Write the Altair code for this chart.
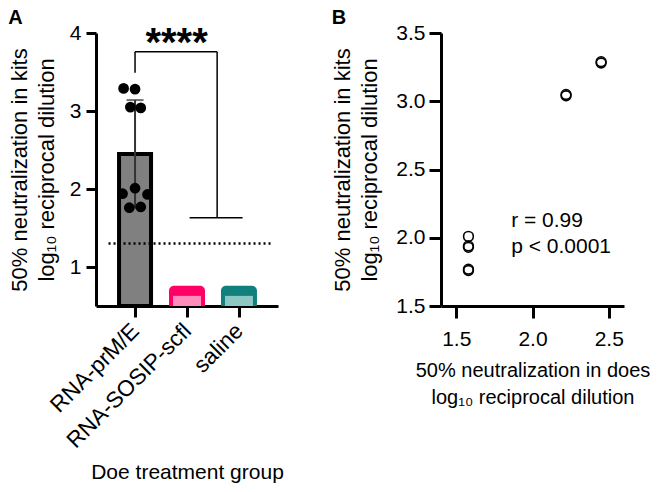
import json
import altair as alt
import pandas as pd

FONT = "Liberation Sans"

# ---------------- data ----------------
groups = ["RNA-prM/E", "RNA-SOSIP-scfl", "saline"]
group_index = [0, 1, 2]
group_means = [2.45, 0.76, 0.76]
group_inner = [0.63, 0.63]          # lighter inner part of the two empty bars
outer_colors = ["#FF0066", "#0F807C"]
inner_colors = ["#FF8CBA", "#8DC6C2"]

kits = [3.29, 3.28, 3.05, 3.04, 2.01, 1.94, 1.93, 1.76, 1.77]
kits_jitter = [-0.22, 0.0, -0.09, 0.11, 0.0, -0.24, 0.24, -0.11, 0.11]
does = [2.45, 2.45, 2.22, 2.22, 1.58, 1.58, 1.58, 1.58, 1.58]

sd_low, sd_high = 1.75, 3.14
lod = 1.30
lod_x = [-0.51, 2.655]

bracket_x1 = [0, 0, 1.58, 1.05]
bracket_x2 = [0, 1.58, 1.58, 2.07]
bracket_y1 = [3.49, 3.76, 1.63, 1.63]
bracket_y2 = [3.76, 3.76, 3.76, 1.63]
stars_x, stars_y = [0.8], [4.11]

stats_text = ["r = 0.99", "p < 0.0001"]
stats_x = [1.86, 1.86]
stats_y = [2.12, 1.93]

# ---------------- tables ----------------
grey_df = pd.DataFrame({"pos": [group_index[0]], "mean": [group_means[0]]})
col_df = pd.DataFrame({"pos": group_index[1:], "group": groups[1:],
                       "mean": group_means[1:], "inner": group_inner})
pts_df = pd.DataFrame({"pos": [group_index[0] + j for j in kits_jitter], "kits": kits})
err_df = pd.DataFrame({"pos": [group_index[0]], "lo": [sd_low], "hi": [sd_high]})
lod_df = pd.DataFrame({"x1": [lod_x[0]], "x2": [lod_x[1]], "y": [lod]})
br_df = pd.DataFrame({"x1": bracket_x1, "x2": bracket_x2, "y1": bracket_y1, "y2": bracket_y2})
star_df = pd.DataFrame({"x": stars_x, "y": stars_y, "t": ["****"]})
b_df = pd.DataFrame({"does": does, "kits": kits})
stat_df = pd.DataFrame({"x": stats_x, "y": stats_y, "t": stats_text})

# ---------------- panel A ----------------
xs = alt.Scale(domain=[-0.655, 2.655], nice=False, zero=False)
ys = alt.Scale(domain=[0.5, 4], nice=False, zero=False)
label_expr = json.dumps(groups) + "[datum.value]"

x_axis_A = alt.Axis(values=group_index, labelExpr=label_expr, labelAngle=-45,
                    labelAlign="right", labelBaseline="middle", labelFlush=False,
                    labelOverlap=False, labelPadding=10, tickSize=11, labelFontSize=22.5,
                    title="Doe treatment group", titlePadding=10, titleFontSize=21, grid=False)
y_axis_A = alt.Axis(values=[1, 2, 3, 4], format="d", tickSize=10, labelPadding=5, grid=False,
                    title=["50% neutralization in kits", "log\u2081\u2080 reciprocal dilution"],
                    titlePadding=11)

XA = alt.X("pos:Q", scale=xs, axis=x_axis_A)
base0 = alt.datum(0.5)

grey = alt.Chart(grey_df).mark_bar(size=32, color="#808080", stroke="black", strokeWidth=4).encode(
    x=XA, y=alt.Y("mean:Q", scale=ys, axis=y_axis_A), y2=base0)
outer = alt.Chart(col_df).mark_bar(size=36, cornerRadiusTopLeft=5, cornerRadiusTopRight=5).encode(
    x="pos:Q", y="mean:Q", y2=base0,
    color=alt.Color("group:N", scale=alt.Scale(domain=groups[1:], range=outer_colors), legend=None))
inner = alt.Chart(col_df).mark_bar(size=28).encode(
    x="pos:Q", y="inner:Q", y2=base0,
    fill=alt.Fill("group:N", scale=alt.Scale(domain=groups[1:], range=inner_colors), legend=None))
err = alt.Chart(err_df).mark_rule(color="#333333", strokeWidth=2).encode(x="pos:Q", y="lo:Q", y2="hi:Q")
cap = alt.Chart(err_df).mark_tick(orient="horizontal", size=17, thickness=2, color="#333333").encode(
    x="pos:Q", y="hi:Q")
pts = alt.Chart(pts_df).mark_circle(size=115, color="black", opacity=1).encode(x="pos:Q", y="kits:Q")
lodl = alt.Chart(lod_df).mark_rule(color="black", strokeWidth=2.5, strokeDash=[2, 3]).encode(
    x="x1:Q", x2="x2:Q", y="y:Q")
br = alt.Chart(br_df).mark_rule(color="black", strokeWidth=1.5).encode(
    x="x1:Q", x2="x2:Q", y="y1:Q", y2="y2:Q")
stars = alt.Chart(star_df).mark_text(fontSize=40, fontWeight="bold", font=FONT, align="center",
                                     baseline="top").encode(x="x:Q", y="y:Q", text="t:N")

panelA = alt.layer(grey, outer, inner, lodl, err, cap, pts, br, stars).properties(
    width=182, height=273,
    title=alt.TitleParams("A", anchor="start", frame="bounds", fontSize=20, fontWeight="bold",
                          font=FONT, offset=-6))

# ---------------- panel B ----------------
x_axis_B = alt.Axis(values=[1.5, 2.0, 2.5], format=".1f", tickSize=12, labelPadding=10, grid=False,
                    title=["50% neutralization in does", "log\u2081\u2080 reciprocal dilution"],
                    titlePadding=11, titleFontSize=20)
y_axis_B = alt.Axis(values=[1.5, 2.0, 2.5, 3.0, 3.5], format=".1f", tickSize=12, labelPadding=4,
                    grid=False,
                    title=["50% neutralization in kits", "log\u2081\u2080 reciprocal dilution"],
                    titlePadding=14)
bx = alt.Scale(domain=[1.4, 2.6], nice=False, zero=False)
by = alt.Scale(domain=[1.5, 3.5], nice=False, zero=False)

scatter = alt.Chart(b_df).mark_point(shape="circle", filled=False, size=95, strokeWidth=1.6,
                                     color="black", opacity=1).encode(
    x=alt.X("does:Q", scale=bx, axis=x_axis_B), y=alt.Y("kits:Q", scale=by, axis=y_axis_B))
stats = alt.Chart(stat_df).mark_text(fontSize=21, font=FONT, align="left", baseline="middle").encode(
    x="x:Q", y="y:Q", text="t:N")

panelB = alt.layer(scatter, stats).properties(
    width=183, height=273,
    title=alt.TitleParams("B", anchor="start", frame="bounds", fontSize=20, fontWeight="bold",
                          font=FONT, offset=-6))

chart = alt.hconcat(panelA, panelB, spacing=47).properties(padding=0).configure_view(
    stroke=None).configure_axis(
    labelFont=FONT, titleFont=FONT, labelFontSize=21, titleFontSize=22, titleFontWeight="normal",
    labelColor="black", titleColor="black", domainColor="black", tickColor="black",
    domainWidth=3, tickWidth=3, titleLineHeight=27)

chart.save("out.html", embed_options={"renderer": "svg", "actions": False})
